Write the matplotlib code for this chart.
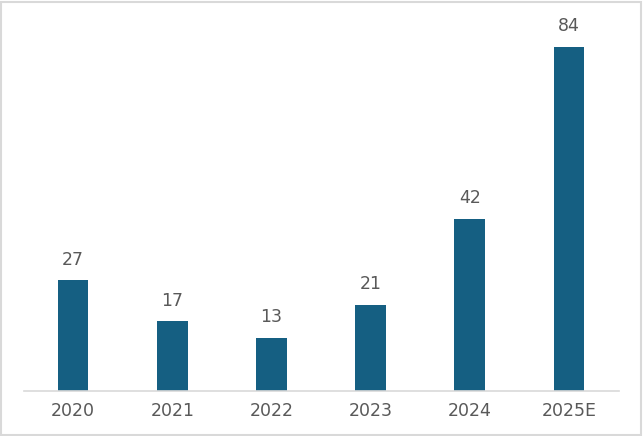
import matplotlib.pyplot as plt
from matplotlib.patches import Rectangle

years = ['2020', '2021', '2022', '2023', '2024', '2025E']
values = [27, 17, 13, 21, 42, 84]

bar_color = '#155F82'
text_color = '#595959'

fig = plt.figure(figsize=(6.43, 4.36), dpi=100)
ax = fig.add_axes([23.5 / 643, (436 - 391) / 436, 595 / 643, 371 / 436])

x = range(len(years))
bars = ax.bar(x, values, width=0.31, color=bar_color, zorder=2)
for xi, v in zip(x, values):
    ax.text(xi, v + 2.9, str(v), ha='center', va='bottom', fontsize=12.5, color=text_color)

ax.set_xlim(-0.5, len(years) - 0.5)
ax.set_ylim(0, 90.6)
ax.set_xticks(list(x))
ax.set_xticklabels(years, fontsize=12.5, color=text_color)
ax.tick_params(axis='x', length=0, pad=8)
ax.set_yticks([])
for side in ['top', 'right', 'left']:
    ax.spines[side].set_visible(False)
ax.spines['bottom'].set_color('#D9D9D9')
ax.spines['bottom'].set_linewidth(1.2)

fig.patches.append(Rectangle((0.002, 0.003), 0.995, 0.993, transform=fig.transFigure,
                             fill=False, edgecolor='#D9D9D9', linewidth=1.5))

fig.savefig('out.png', dpi=100)
